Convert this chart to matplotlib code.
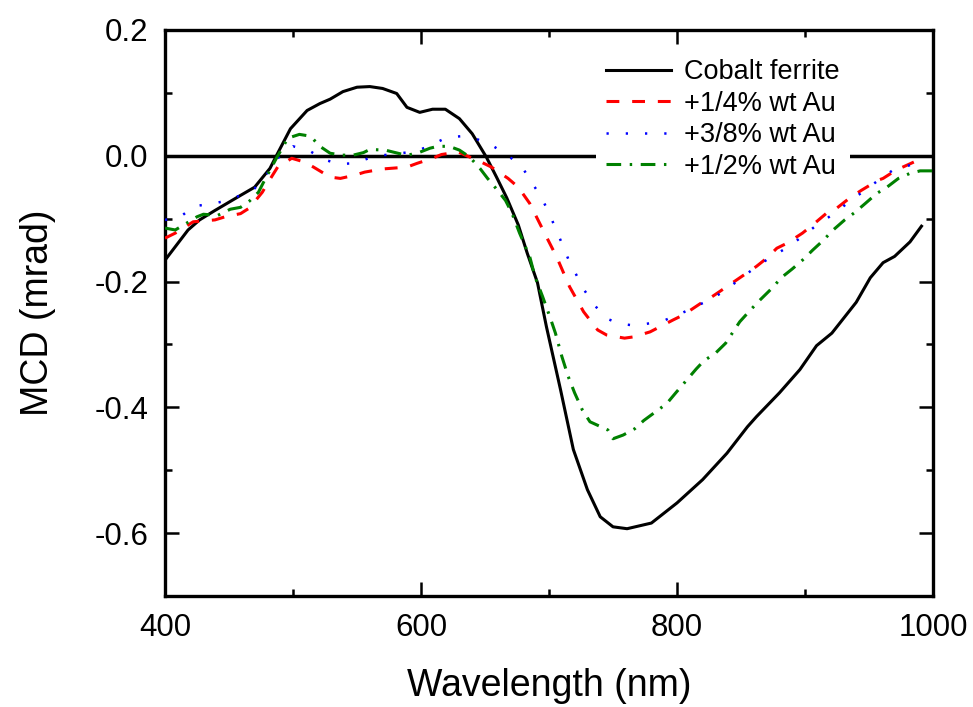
import numpy as np
import matplotlib
matplotlib.use("Agg")
import matplotlib.pyplot as plt
from matplotlib.ticker import MultipleLocator, FormatStrFormatter

plt.rcParams['font.family'] = ['Liberation Sans', 'DejaVu Sans']
plt.rcParams['axes.unicode_minus'] = False

# Cobalt ferrite
wl_cf = [400, 418, 427, 439, 459, 470, 482, 487, 498, 511, 521, 529, 539, 550,
         560, 570, 581, 589, 599, 609, 619, 630, 640, 651, 659, 667, 676, 683,
         691, 698, 709, 719, 730, 740, 750, 761, 780, 800, 820, 839, 855, 862,
         880, 896, 909, 921, 940, 951, 961, 970, 982, 991]
mcd_cf = [-0.166, -0.118, -0.102, -0.087, -0.063, -0.050, -0.020, 0.000, 0.043,
          0.072, 0.083, 0.090, 0.102, 0.109, 0.110, 0.107, 0.099, 0.077, 0.069,
          0.074, 0.074, 0.059, 0.035, -0.002, -0.034, -0.067, -0.110, -0.155,
          -0.202, -0.272, -0.372, -0.467, -0.531, -0.574, -0.590, -0.593, -0.584,
          -0.552, -0.515, -0.473, -0.431, -0.415, -0.377, -0.340, -0.302, -0.282,
          -0.233, -0.194, -0.170, -0.160, -0.137, -0.112]

# +1/4% wt Au
wl_q = [400, 408, 422, 439, 447, 459, 466, 476, 480, 488, 499, 509, 516, 529,
        537, 548, 556, 570, 589, 597, 609, 616, 629, 638, 648, 655, 668, 676,
        685, 698, 706, 716, 727, 738, 745, 759, 766, 779, 797, 805, 819, 826,
        839, 862, 870, 878, 886, 898, 906, 917, 925, 935, 944, 957, 961, 971, 985]
mcd_q = [-0.131, -0.123, -0.105, -0.102, -0.097, -0.092, -0.083, -0.058, -0.044,
         -0.018, -0.004, -0.010, -0.018, -0.034, -0.036, -0.031, -0.026, -0.021,
         -0.018, -0.012, -0.004, 0.002, 0.006, -0.002, -0.011, -0.018, -0.036,
         -0.050, -0.076, -0.129, -0.161, -0.208, -0.248, -0.277, -0.285, -0.290,
         -0.288, -0.280, -0.261, -0.253, -0.234, -0.226, -0.208, -0.176, -0.163,
         -0.147, -0.139, -0.123, -0.110, -0.091, -0.083, -0.067, -0.055, -0.039,
         -0.036, -0.023, -0.010]

# +3/8% wt Au
wl_e = [400, 412, 423, 435, 447, 459, 470, 480, 488, 500, 512, 524, 536, 548,
        559, 571, 584, 596, 608, 620, 631, 643, 655, 667, 679, 687, 694, 700,
        705, 710, 715, 721, 727, 735, 744, 755, 767, 780, 791, 804, 815, 827,
        839, 851, 863, 875, 887, 898, 910, 922, 934, 946, 958, 970, 982]
mcd_e = [-0.102, -0.097, -0.080, -0.077, -0.072, -0.063, -0.052, -0.028, -0.004,
         0.015, 0.009, -0.006, -0.013, -0.012, -0.004, 0.001, 0.004, 0.007, 0.017,
         0.029, 0.031, 0.027, 0.017, 0.002, -0.018, -0.044, -0.066, -0.091, -0.115,
         -0.139, -0.164, -0.188, -0.212, -0.236, -0.258, -0.267, -0.270, -0.266,
         -0.261, -0.250, -0.239, -0.228, -0.212, -0.193, -0.175, -0.159, -0.145,
         -0.128, -0.109, -0.093, -0.074, -0.056, -0.038, -0.021, -0.015]

# +1/2% wt Au
wl_h = [400, 408, 417, 425, 430, 441, 451, 459, 466, 473, 477, 482, 487, 496,
        505, 511, 516, 521, 529, 538, 547, 555, 560, 572, 584, 589, 597, 607,
        613, 622, 630, 638, 646, 652, 659, 666, 671, 677, 685, 689, 695, 701,
        705, 710, 715, 720, 726, 732, 746, 750, 758, 767, 774, 792, 799, 815,
        821, 830, 838, 849, 857, 865, 873, 882, 890, 898, 906, 914, 922, 931,
        939, 947, 956, 964, 973, 982, 990, 1000]
mcd_h = [-0.115, -0.118, -0.107, -0.097, -0.093, -0.095, -0.085, -0.082, -0.072,
         -0.058, -0.042, -0.023, -0.004, 0.028, 0.034, 0.032, 0.026, 0.015, 0.004,
         0.001, 0.001, 0.005, 0.010, 0.009, 0.003, 0.001, 0.004, 0.012, 0.015,
         0.015, 0.009, -0.002, -0.020, -0.036, -0.053, -0.071, -0.091, -0.123,
         -0.161, -0.192, -0.224, -0.258, -0.282, -0.319, -0.351, -0.377, -0.404,
         -0.423, -0.436, -0.450, -0.444, -0.434, -0.421, -0.394, -0.377, -0.339,
         -0.326, -0.314, -0.298, -0.264, -0.246, -0.229, -0.213, -0.193, -0.180,
         -0.166, -0.150, -0.135, -0.118, -0.102, -0.090, -0.076, -0.060, -0.050,
         -0.036, -0.028, -0.024, -0.024]

labels = ["Cobalt ferrite", "+1/4% wt Au", "+3/8% wt Au", "+1/2% wt Au"]

fig = plt.figure(figsize=(9.73, 7.07), dpi=100)
ax = fig.add_axes([0.1696, 0.157, 0.7893, 0.8006])

ax.axhline(0, color='black', lw=2.5, zorder=1)

ax.plot(wl_cf, mcd_cf, color='black', lw=2.2, label=labels[0], zorder=3)
ax.plot(wl_q, mcd_q, color='red', lw=2.2, dashes=(4.2, 4.2), label=labels[1], zorder=3)
ax.plot(wl_e, mcd_e, color='blue', lw=1.8, dashes=(0.9, 6.8), label=labels[2], zorder=3)
ax.plot(wl_h, mcd_h, color='green', lw=2.2, dashes=(4.8, 2.8, 0.8, 2.8), label=labels[3], zorder=3)

ax.set_xlim(400, 1000)
ax.set_ylim(-0.7, 0.2)
ax.xaxis.set_major_locator(MultipleLocator(200))
ax.xaxis.set_minor_locator(MultipleLocator(100))
ax.yaxis.set_major_locator(MultipleLocator(0.2))
ax.yaxis.set_minor_locator(MultipleLocator(0.1))
ax.yaxis.set_major_formatter(FormatStrFormatter('%.1f'))

ax.tick_params(which='both', direction='in', top=True, right=True, width=1.8)
ax.tick_params(which='major', length=10, labelsize=22.5, pad=12)
ax.tick_params(which='minor', length=5)
for sp in ax.spines.values():
    sp.set_linewidth(2.4)

ax.set_xlabel("Wavelength (nm)", fontsize=27)
ax.set_ylabel("MCD (mrad)", fontsize=27)
ax.xaxis.set_label_coords(0.5, -0.127)
ax.yaxis.set_label_coords(-0.142, 0.5)

leg = ax.legend(loc='upper right', bbox_to_anchor=(0.892, 0.967), fontsize=19.5,
                frameon=True, fancybox=False, framealpha=1, handlelength=2.4,
                handletextpad=0.45, labelspacing=0.2, borderpad=0.4,
                borderaxespad=0)
leg.get_frame().set_edgecolor('none')
leg.get_frame().set_facecolor('white')
leg.set_zorder(5)

fig.savefig("out.png", dpi=100)
